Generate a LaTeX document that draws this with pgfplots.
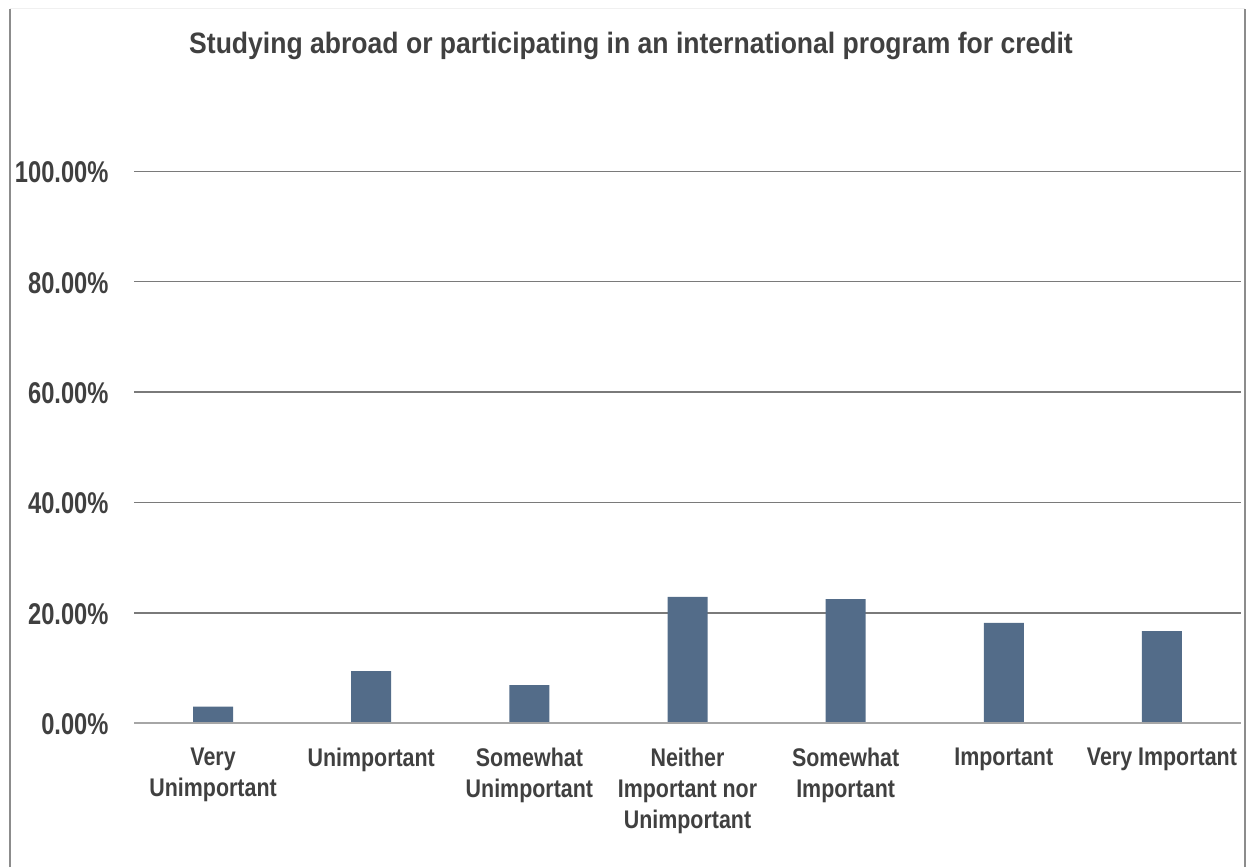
\documentclass[border=0pt]{standalone}
\usepackage{fontspec}
\setmainfont{Liberation Sans}
\newfontfamily\titlefont{Liberation Sans}[FakeStretch=0.9]
\newfontfamily\tickfont{Liberation Sans}[FakeStretch=0.79]
\newfontfamily\catfont{Liberation Sans}[FakeStretch=0.84]
\usepackage{pgfplots}
\pgfplotsset{compat=1.18}
\definecolor{barcol}{HTML}{536C89}
\definecolor{txt}{HTML}{404040}
\definecolor{gridcol}{HTML}{7A7A7A}
\definecolor{zero}{HTML}{A6A6A6}
\definecolor{border}{HTML}{8C8C8C}
\begin{document}
\begin{tikzpicture}[x=1pt,y=1pt]
\useasboundingbox (0,0) rectangle (1249,867);
\draw[border, line width=2pt] (10,0) -- (10,858);
\draw[border, line width=2pt] (1245,0) -- (1245,858);
\draw[black!6, line width=1pt] (10,858) -- (1245,858);
\node[font=\titlefont\bfseries\fontsize{29.5}{32}\selectfont, text=txt] at (631,821) {Studying abroad or participating in an international program for credit};
\begin{axis}[
  scale only axis,
  width=1107pt, height=552pt,
  at={(134pt,143.7pt)}, anchor=south west,
  xmin=-0.5, xmax=6.5, ymin=0, ymax=100,
  axis line style={draw=none},
  ytick={0,20,40,60,80,100},
  yticklabels={0.00\%,20.00\%,40.00\%,60.00\%,80.00\%,100.00\%},
  ymajorgrids=true, xmajorgrids=false,
  y grid style={gridcol, line width=1.5pt},
  major tick length=0pt,
  yticklabel style={font=\tickfont\bfseries\fontsize{30}{32}\selectfont, text=txt, xshift=-22pt, yshift=-1pt},
  xtick={0,1,2,3,4,5,6},
  xticklabels={Very\\Unimportant, Unimportant, Somewhat\\Unimportant, Neither\\Important nor\\Unimportant, Somewhat\\Important, Important, Very Important},
  xticklabel style={font=\catfont\bfseries\fontsize{25.5}{31}\selectfont, text=txt, align=center, yshift=-21pt},
  clip=false,
]
\addplot[ybar, bar width=40pt, fill=barcol, draw=none] coordinates {
(0,3.0) (1,9.46) (2,6.93) (3,22.9) (4,22.5) (5,18.2) (6,16.7)};
\draw[zero, line width=2pt] (axis cs:-0.5,0) -- (axis cs:6.5,0);
\end{axis}
\end{tikzpicture}
\end{document}
